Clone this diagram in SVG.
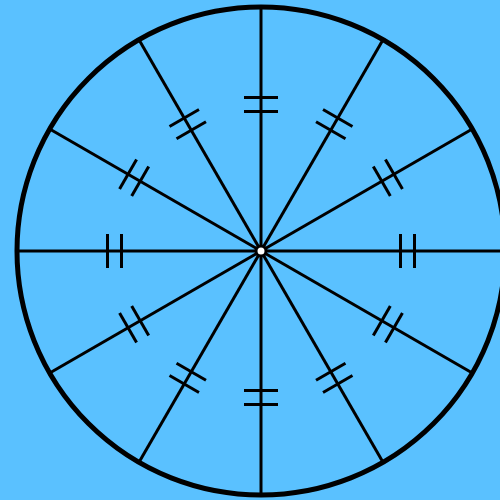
<svg xmlns="http://www.w3.org/2000/svg" width="500" height="500" viewBox="0 0 500 500">
<defs>
<style>
.r{stroke:#000;stroke-width:3;fill:none}
.t{stroke:#000;stroke-width:3;fill:none}
</style>
<g id="spoke">
<line class="r" x1="261" y1="251" x2="261" y2="7"/>
<line class="t" x1="244" y1="97.5" x2="278" y2="97.5"/>
<line class="t" x1="244" y1="111.5" x2="278" y2="111.5"/>
</g>
</defs>
<rect width="500" height="500" fill="#5AC1FF"/>
<g id="connectors">
<use href="#spoke"/>
<use href="#spoke" transform="rotate(30 261 251)"/>
<use href="#spoke" transform="rotate(60 261 251)"/>
<use href="#spoke" transform="rotate(90 261 251)"/>
<use href="#spoke" transform="rotate(120 261 251)"/>
<use href="#spoke" transform="rotate(150 261 251)"/>
<use href="#spoke" transform="rotate(180 261 251)"/>
<use href="#spoke" transform="rotate(210 261 251)"/>
<use href="#spoke" transform="rotate(240 261 251)"/>
<use href="#spoke" transform="rotate(270 261 251)"/>
<use href="#spoke" transform="rotate(300 261 251)"/>
<use href="#spoke" transform="rotate(330 261 251)"/>
</g>
<g id="rim"><circle cx="261" cy="251" r="244" fill="none" stroke="#000" stroke-width="5"/></g>
<g id="center"><circle cx="261" cy="251" r="5" fill="#fff" stroke="#000" stroke-width="3"/></g>
</svg>
